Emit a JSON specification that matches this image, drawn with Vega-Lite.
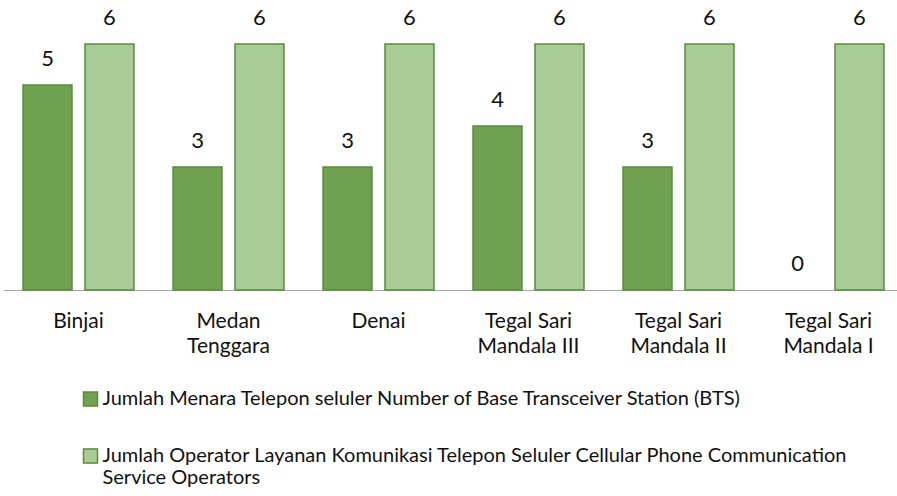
{
  "$schema": "https://vega.github.io/schema/vega-lite/v6.json",
  "width": 900,
  "height": 246,
  "autosize": {"type": "none"},
  "padding": {"left": 3.5, "top": 44, "right": 0, "bottom": 206},
  "background": "white",
  "config": {"view": {"stroke": null}, "font": "Lato"},
  "data": {
    "values": [
      {"kecamatan": "Binjai", "seri": "Jumlah Menara Telepon seluler Number of Base Transceiver Station (BTS)", "nilai": 5},
      {"kecamatan": "Binjai", "seri": "Jumlah Operator Layanan Komunikasi Telepon Seluler Cellular Phone Communication Service Operators", "nilai": 6},
      {"kecamatan": "Medan Tenggara", "seri": "Jumlah Menara Telepon seluler Number of Base Transceiver Station (BTS)", "nilai": 3},
      {"kecamatan": "Medan Tenggara", "seri": "Jumlah Operator Layanan Komunikasi Telepon Seluler Cellular Phone Communication Service Operators", "nilai": 6},
      {"kecamatan": "Denai", "seri": "Jumlah Menara Telepon seluler Number of Base Transceiver Station (BTS)", "nilai": 3},
      {"kecamatan": "Denai", "seri": "Jumlah Operator Layanan Komunikasi Telepon Seluler Cellular Phone Communication Service Operators", "nilai": 6},
      {"kecamatan": "Tegal Sari Mandala III", "seri": "Jumlah Menara Telepon seluler Number of Base Transceiver Station (BTS)", "nilai": 4},
      {"kecamatan": "Tegal Sari Mandala III", "seri": "Jumlah Operator Layanan Komunikasi Telepon Seluler Cellular Phone Communication Service Operators", "nilai": 6},
      {"kecamatan": "Tegal Sari Mandala II", "seri": "Jumlah Menara Telepon seluler Number of Base Transceiver Station (BTS)", "nilai": 3},
      {"kecamatan": "Tegal Sari Mandala II", "seri": "Jumlah Operator Layanan Komunikasi Telepon Seluler Cellular Phone Communication Service Operators", "nilai": 6},
      {"kecamatan": "Tegal Sari Mandala I", "seri": "Jumlah Menara Telepon seluler Number of Base Transceiver Station (BTS)", "nilai": 0},
      {"kecamatan": "Tegal Sari Mandala I", "seri": "Jumlah Operator Layanan Komunikasi Telepon Seluler Cellular Phone Communication Service Operators", "nilai": 6}
    ]
  },
  "encoding": {
    "x": {
      "field": "kecamatan", "type": "nominal", "sort": null,
      "scale": {"paddingInner": 0, "paddingOuter": 0},
      "axis": {
        "title": null, "ticks": false, "labelAngle": 0,
        "labelFontSize": 21, "labelColor": "#111111", "labelPadding": 20,
        "labelLineHeight": 25, "labelFont": "Lato",
        "domainColor": "#a6a6a6", "domainWidth": 1.2,
        "labelExpr": "split(replace(replace(datum.label, 'Medan ', 'Medan|'), 'Tegal Sari ', 'Tegal Sari|'), '|')"
      }
    },
    "xOffset": {"field": "seri", "type": "nominal", "sort": null, "scale": {"paddingInner": 0.21, "paddingOuter": 0.315}},
    "y": {"field": "nilai", "type": "quantitative", "scale": {"domain": [0, 6]}, "axis": null}
  },
  "layer": [
    {
      "transform": [{"filter": "datum.nilai > 0"}],
      "mark": {"type": "bar", "stroke": "#5a8a3c", "strokeWidth": 1.5},
      "encoding": {
        "color": {
          "field": "seri", "type": "nominal", "sort": null,
          "scale": {"range": ["#70a150", "#a8cc96"]},
          "legend": {
            "orient": "none", "legendX": 77, "legendY": 345, "direction": "vertical",
            "title": null, "symbolType": "square", "symbolSize": 196,
            "symbolStrokeColor": "#5a8a3c", "symbolStrokeWidth": 1.5,
            "labelFontSize": 20, "labelLimit": 900, "rowPadding": 37, "labelOffset": 2,
            "labelColor": "#111111", "padding": 0,
            "labelExpr": "split(replace(datum.label, ' Service Operators', '|Service Operators'), '|')"
          }
        }
      }
    },
    {
      "mark": {"type": "text", "dy": -19.5, "baseline": "alphabetic", "fontSize": 22, "color": "#111111"},
      "encoding": {"text": {"field": "nilai", "type": "quantitative"}}
    }
  ]
}
